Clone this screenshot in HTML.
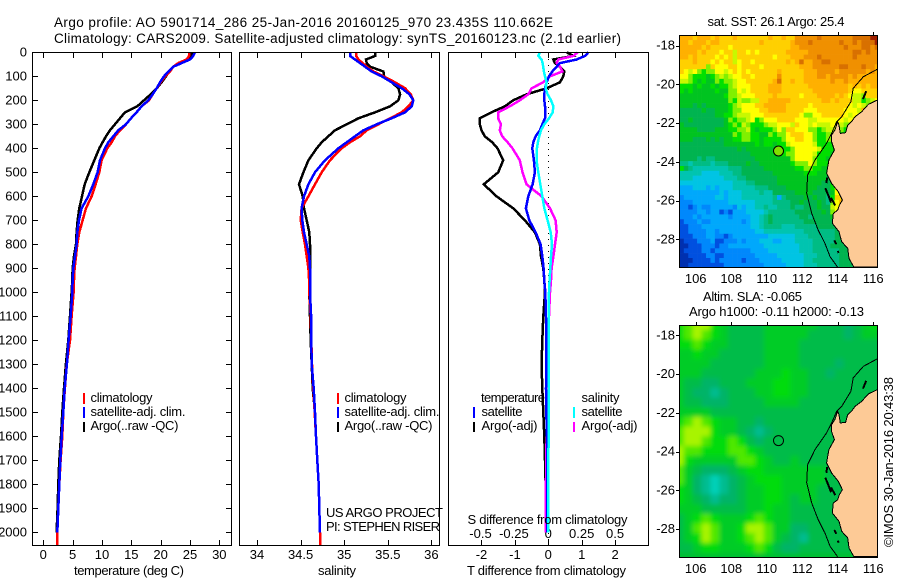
<!DOCTYPE html>
<html>
<head>
<meta charset="utf-8">
<title>Argo profile</title>
<style>
html,body{margin:0;padding:0;background:#fff;}
svg{display:block;font-family:"Liberation Sans",sans-serif;font-size:13px;fill:#000;}
.frame{fill:none;stroke:#000;stroke-width:1;shape-rendering:crispEdges;}
.head{font-size:13.5px;}
</style>
</head>
<body>
<svg id="chart" xmlns="http://www.w3.org/2000/svg" width="900" height="580" viewBox="0 0 900 580">
  <defs>
    <clipPath id="clipA"><rect x="679.5" y="35.5" width="198" height="232"/></clipPath>
    <clipPath id="clipB"><rect x="679.5" y="325.5" width="198" height="232"/></clipPath>
    <filter id="soft" x="-5%" y="-5%" width="110%" height="110%"><feGaussianBlur stdDeviation="2.5"/></filter>
  </defs>
  <rect x="0" y="0" width="900" height="580" fill="#fff"/>

  <text class="head" x="54" y="27" textLength="499">Argo profile: AO 5901714_286 25-Jan-2016 20160125_970 23.435S 110.662E</text>
  <text class="head" x="54" y="43" textLength="567">Climatology: CARS2009. Satellite-adjusted climatology: synTS_20160123.nc (2.1d earlier)</text>

  <g id="marks"></g>

  <rect class="frame" x="32.5" y="52.5" width="199" height="493"/>
  <rect class="frame" x="239.5" y="52.5" width="200" height="493"/>
  <rect class="frame" x="448.5" y="52.5" width="200" height="493"/>

  <text x="74" y="575" textLength="110">temperature (deg C)</text>
  <text x="318" y="575" textLength="38">salinity</text>
  <text x="467" y="575" textLength="159">T difference from climatology</text>
  <text x="467.5" y="524" textLength="160">S difference from climatology</text>

  <g>
    <rect x="83" y="393" width="2" height="11" fill="#f00"/>
    <text x="90.5" y="402" textLength="62">climatology</text>
    <rect x="83" y="407" width="2" height="11" fill="#00f"/>
    <text x="90.5" y="416" textLength="95">satellite-adj. clim.</text>
    <rect x="83" y="422" width="2" height="10" fill="#000"/>
    <text x="90.5" y="430" textLength="88">Argo(..raw -QC)</text>
  </g>
  <g>
    <rect x="337" y="393" width="2" height="11" fill="#f00"/>
    <text x="344.5" y="402" textLength="62">climatology</text>
    <rect x="337" y="407" width="2" height="11" fill="#00f"/>
    <text x="344.5" y="416" textLength="95">satellite-adj. clim.</text>
    <rect x="337" y="422" width="2" height="10" fill="#000"/>
    <text x="344.5" y="430" textLength="88">Argo(..raw -QC)</text>
  </g>
  <text x="326" y="517" textLength="117">US ARGO PROJECT</text>
  <text x="326" y="531" textLength="114">PI: STEPHEN RISER</text>

  <g>
    <text x="481" y="402" textLength="64">temperature</text>
    <rect x="473" y="407" width="2" height="11" fill="#00f"/>
    <text x="481.5" y="416" textLength="41">satellite</text>
    <rect x="473" y="422" width="2" height="10" fill="#000"/>
    <text x="481.5" y="430" textLength="56">Argo(-adj)</text>
    <text x="581.5" y="402" textLength="38">salinity</text>
    <rect x="573" y="407" width="2" height="11" fill="#0ff"/>
    <text x="581.5" y="416" textLength="41">satellite</text>
    <rect x="573" y="422" width="2" height="10" fill="#f0f"/>
    <text x="581.5" y="430" textLength="56">Argo(-adj)</text>
  </g>

  <rect class="frame" x="679.5" y="35.5" width="198" height="232"/>
  <rect class="frame" x="679.5" y="325.5" width="198" height="232"/>
  <text x="707.5" y="26" textLength="137">sat. SST: 26.1  Argo: 25.4</text>
  <text x="703" y="301" textLength="99">Altim. SLA: -0.065</text>
  <text x="689" y="316" textLength="175">Argo h1000: -0.11  h2000: -0.13</text>
  <text transform="translate(893,547) rotate(-90)" textLength="170">©IMOS 30-Jan-2016 20:43:38</text>
</svg>

<script>
// ---------- profile data ----------
const depths = [0,15,30,45,60,80,100,125,150,175,200,225,250,275,300,325,350,375,400,450,500,550,600,650,700,750,800,850,900,950,1000,1100,1200,1300,1400,1500,1600,1700,1800,1900,2000,2054];
const tempClim = [24.83,24.83,24.43,23.01,22.16,21.59,20.74,20.0,19.32,18.64,18.01,16.76,15.91,14.94,14.09,13.07,12.22,11.65,10.91,9.94,9.55,8.92,8.24,7.27,6.7,6.14,5.8,5.57,5.34,5.23,5.17,4.83,4.55,3.98,3.69,3.41,3.24,2.95,2.73,2.56,2.39,2.39];
const tempSat = [25.85,25.57,25.0,23.58,22.16,21.31,20.57,19.89,19.32,18.64,17.9,16.76,15.91,14.94,14.09,12.78,11.93,11.08,10.51,9.66,9.26,8.52,7.67,6.53,6.08,5.8,5.68,5.4,5.11,5.0,4.94,4.66,4.32,4.03,3.64,3.41,3.13,2.9,2.73,2.56,2.39];
const tempArgo = [25.28,25.28,25.0,23.01,22.16,21.48,20.91,20.17,19.32,18.3,17.16,16.02,13.92,13.07,12.22,11.36,10.68,10.11,9.55,8.69,7.84,7.05,6.59,6.14,5.85,5.68,5.57,5.23,5.0,4.94,4.83,4.55,4.26,3.86,3.52,3.24,3.01,2.73,2.56,2.44,2.27];
const salClim = [35.136,35.136,35.163,35.212,35.258,35.335,35.449,35.583,35.698,35.763,35.793,35.736,35.66,35.526,35.392,35.258,35.182,35.067,34.971,34.837,34.742,34.665,34.589,34.512,34.501,34.524,34.551,34.57,34.589,34.597,34.6,34.616,34.623,34.631,34.646,34.662,34.677,34.692,34.707,34.715,34.723,34.723];
const salSat = [35.067,35.067,35.124,35.182,35.239,35.315,35.43,35.545,35.66,35.748,35.793,35.774,35.698,35.545,35.373,35.22,35.124,35.029,34.933,34.78,34.665,34.589,34.539,34.512,34.52,34.539,34.57,34.6,34.608,34.608,34.608,34.62,34.623,34.627,34.65,34.665,34.677,34.692,34.707,34.715,34.723];
const salArgo = [35.354,35.354,35.25,35.258,35.296,35.449,35.457,35.545,35.621,35.641,35.621,35.526,35.354,35.163,35.029,34.895,34.818,34.742,34.685,34.589,34.532,34.482,34.524,34.539,34.57,34.6,34.608,34.608,34.608,34.608,34.6,34.608,34.616,34.627,34.639,34.665,34.677,34.692,34.707,34.715,34.723];
const tDiffArgo = [0.55,0.75,0.15,0.2,0.35,0.48,0.45,0.35,-0.05,-0.65,-1.05,-1.3,-1.7,-2.05,-2.05,-2,-1.9,-1.68,-1.52,-1.35,-1.5,-1.93,-1.55,-1.05,-0.7,-0.4,-0.25,-0.22,-0.15,-0.12,-0.1,-0.15,-0.18,-0.2,-0.18,-0.15,-0.12,-0.1,-0.08,-0.07,-0.07];
const tDiffSat = [1.2,1.1,0.85,0.35,0.25,0.12,0.02,-0.05,-0.1,-0.12,-0.12,-0.1,-0.1,-0.1,-0.18,-0.25,-0.38,-0.45,-0.48,-0.43,-0.4,-0.47,-0.6,-0.67,-0.57,-0.38,-0.23,-0.18,-0.14,-0.12,-0.09,-0.07,-0.06,-0.06,-0.07,-0.06,-0.04,-0.04,-0.03,-0.03,-0.03];
const sDiffArgo = [0.22,0.188,0.075,0.063,0.088,0.105,0.013,-0.038,-0.125,-0.15,-0.213,-0.288,-0.375,-0.375,-0.355,-0.363,-0.345,-0.305,-0.268,-0.213,-0.193,-0.163,-0.05,0.013,0.055,0.063,0.05,0.038,0.025,0.02,0.013,0.005,0,-0.005,-0.008,-0.01,-0.013,-0.015,-0.018,-0.02,-0.02];
const sDiffSat = [-0.063,-0.075,-0.05,-0.043,-0.038,-0.033,-0.025,-0.013,-0.02,-0.005,0.02,0.038,0.033,0.005,-0.03,-0.055,-0.068,-0.078,-0.085,-0.088,-0.075,-0.06,-0.045,-0.03,-0.005,0.018,0.028,0.02,0.015,0.01,0.005,0.003,0.003,0.003,0.003,0.003,0.003,0,0,0,0];

// ---------- tick labels ----------
const depthTicks = [0,100,200,300,400,500,600,700,800,900,1000,1100,1200,1300,1400,1500,1600,1700,1800,1900,2000];
const tempTicks = [0,5,10,15,20,25,30];
const salTicks = [34,34.5,35,35.5,36];
const tDiffTicks = [-2,-1,0,1,2];
const sDiffTicks = [-0.5,-0.25,0,0.25,0.5];
const lonTicks = [106,108,110,112,114,116];
const latTicks = [-18,-20,-22,-24,-26,-28];

// ---------- map geography (lon, lat) ----------
const argoLon = 110.662;
const argoLat = -23.435;
const landLon = [116.22,115.72,115.34,114.97,114.78,114.56,114.44,114.14,114.07,113.99,113.84,113.65,113.65,113.81,113.5,113.37,113.65,114.03,114.26,114.09,113.99,113.75,113.69,114.07,114.22,114.56,114.63,114.91,116.3,116.3];
const landLat = [-20.81,-21.03,-21.41,-21.67,-21.92,-22.1,-22.49,-22.53,-22.1,-21.92,-22.35,-22.61,-22.96,-23.39,-23.9,-24.59,-25.11,-25.54,-25.97,-26.23,-26.49,-26.66,-27.17,-27.6,-28.12,-28.46,-28.98,-29.43,-29.43,-20.81];
const contourLon = [116.22,115.44,114.87,114.74,114.22,113.94,113.65,113.37,112.72,112.3,112.25,112.53,112.9,113.28,113.56,113.99];
const contourLat = [-19.22,-19.6,-20.2,-20.89,-21.67,-21.92,-22.53,-23.04,-23.9,-24.68,-25.62,-26.66,-27.52,-28.21,-28.89,-29.43];
const islandLon = [[115.6,115.42],[113.4,113.36],[113.3,113.5,113.62],[113.62,113.86],[113.8,113.92],[114.0,114.05]];
const islandLat = [[-20.35,-20.75],[-24.8,-25.1],[-25.35,-25.8,-26.1],[-25.85,-26.25],[-28.05,-28.25],[-28.6,-28.7]];

// ---------- SST colour levels ----------
const sstColors = ['#0030b0','#0050e0','#0088fc','#00a8fc','#00c4e4','#00c4b0','#00bc84','#00b450','#00c420','#00e000','#80f000','#c8f800','#ffff00','#ffd000','#ffb000','#f09000','#d87000','#a02000'];
const sstLevels = [
[14,14,14,13,14,14,14,13,14,13,13,13,14,13,13,13,13,13,13,13,14,13,13,14,13,13,15,15,15,15,15,16,15,15,15,15,15,15,15,16,16,16,16,17,17],
[14,14,13,14,14,14,13,14,14,13,13,13,13,13,13,13,13,13,14,13,13,13,13,13,13,14,15,15,15,16,15,15,15,15,15,15,16,15,15,16,15,16,16,16,17],
[14,14,14,14,14,13,14,13,13,13,13,12,13,13,13,13,13,13,13,13,13,13,13,13,13,14,14,15,15,15,15,15,15,15,15,15,15,16,15,15,15,16,16,15,16],
[14,14,14,14,13,14,13,13,13,12,13,13,11,13,13,12,13,12,13,13,13,13,13,13,14,14,14,14,14,15,15,15,15,15,15,15,15,15,15,16,16,15,16,15,15],
[14,14,13,14,13,13,13,13,12,13,12,13,11,13,13,13,13,13,13,13,13,12,13,13,13,14,14,14,15,15,15,16,15,15,15,15,15,15,15,16,15,15,15,15,15],
[13,13,13,14,13,13,13,12,13,12,13,13,11,12,13,13,12,13,13,13,13,13,13,13,14,13,14,16,14,14,15,15,16,16,15,15,15,15,15,15,15,15,15,15,15],
[13,13,13,13,13,13,10,13,12,12,12,13,13,12,13,13,13,13,12,13,13,13,13,13,13,13,13,14,14,14,15,15,15,15,15,15,16,16,15,15,15,16,15,15,14],
[13,12,11,12,10,9,10,10,12,12,11,12,13,12,13,12,13,13,13,13,13,13,14,13,13,13,13,13,14,14,14,15,15,15,15,14,15,15,15,15,15,15,14,15,14],
[12,12,10,9,9,9,8,9,10,11,10,11,12,12,13,13,12,13,13,13,13,13,15,13,13,13,13,13,14,14,14,15,15,14,15,15,15,15,14,15,14,14,14,14,14],
[11,11,10,9,8,9,8,8,10,9,10,10,11,12,12,13,13,13,13,13,13,14,16,13,13,14,13,13,14,14,14,14,14,14,15,14,14,15,14,14,14,14,14,14,14],
[9,9,9,8,9,8,8,9,8,9,9,10,11,12,12,12,13,13,13,13,14,14,14,13,13,13,13,13,13,14,14,14,14,14,14,14,14,14,13,14,13,14,13,14,14],
[9,8,9,8,8,8,8,8,9,8,8,10,10,12,11,12,13,13,13,13,14,14,14,13,13,13,13,13,13,13,14,14,14,14,14,14,14,14,13,12,12,13,13,13,13],
[8,8,8,8,8,8,8,8,8,8,9,10,10,11,12,12,12,13,13,13,13,14,13,13,13,13,13,12,13,13,13,14,14,14,14,13,14,13,12,11,11,10,13,13,13],
[8,8,8,8,8,8,8,8,8,8,8,10,9,11,10,10,11,11,13,13,14,14,14,14,14,13,13,13,13,13,13,13,14,14,13,14,13,13,13,11,11,9,10,11,12],
[8,8,8,7,8,7,8,8,8,8,8,9,10,11,12,12,12,13,13,14,14,14,14,14,13,13,13,13,13,12,13,13,13,13,13,13,13,13,12,11,12,11,10,14,15],
[7,7,7,7,7,8,7,7,8,8,8,9,10,10,12,12,12,12,13,13,14,14,14,14,13,13,13,13,12,12,12,13,13,13,13,13,13,12,12,12,11,14,15,15,15],
[7,7,7,7,7,7,7,7,8,8,9,9,10,11,11,11,12,12,12,13,13,13,13,13,13,13,13,12,10,10,12,12,13,13,13,13,13,12,11,12,12,14,15,15,15],
[7,7,8,7,7,7,7,7,7,7,8,10,9,10,10,11,12,9,10,12,12,12,13,13,13,13,12,12,12,11,11,12,12,12,12,12,12,11,12,11,12,14,14],
[8,7,7,7,7,7,7,7,7,7,8,9,10,9,11,10,9,9,9,10,11,11,12,12,12,11,13,12,12,11,12,11,11,11,12,12,11,10,10,8,10,9,10],
[8,8,8,8,7,7,7,7,8,8,8,9,9,10,10,11,9,8,9,9,9,10,12,10,13,13,12,12,12,10,10,9,10,11,11,11,10,9,9,9,10,9],
[8,8,8,8,8,8,8,8,8,8,8,8,10,9,10,10,9,9,8,8,10,9,10,10,12,13,13,13,12,12,10,9,9,10,10,10,9,9,8,8,13,13],
[8,8,8,7,7,7,8,7,8,7,8,8,9,9,10,10,9,9,8,9,9,9,9,10,12,12,13,13,12,12,10,9,9,10,10,9,9,8,8,8],
[7,7,7,7,7,7,7,7,7,7,8,8,8,8,8,8,8,9,8,9,9,8,9,9,11,12,12,12,12,12,11,9,9,9,9,9,8,8],
[7,7,7,7,7,7,7,7,7,7,7,7,7,8,7,8,8,8,8,8,8,8,8,9,9,10,12,12,12,12,12,11,9,9,9,8,8,8],
[7,7,7,7,7,7,7,7,7,7,7,7,7,7,7,7,8,8,8,8,8,8,8,9,10,10,12,12,12,12,11,9,9,9,8,8,7,7],
[7,7,7,7,6,7,6,6,7,7,7,7,7,7,7,7,7,8,8,8,8,8,8,8,8,10,12,12,12,12,10,9,9,8,8,8,7,7],
[6,6,5,6,6,6,6,5,6,6,6,7,7,7,7,8,7,7,8,8,8,8,8,8,8,9,10,10,10,12,10,9,9,9,8,8,7,7],
[9,7,6,5,5,5,5,5,5,5,5,6,6,6,7,7,7,7,7,8,8,8,8,8,8,8,9,9,10,10,9,9,8,8,8,7,7,7],
[5,5,5,5,5,4,4,4,4,5,5,5,6,6,7,7,7,7,7,7,7,8,8,8,8,8,8,8,9,9,9,8,8,8,12,12,7],
[5,5,5,4,4,4,4,4,4,4,5,5,5,6,6,7,7,7,7,7,7,7,8,8,8,8,8,8,8,8,8,8,8,7,11,12,13],
[4,4,4,4,4,4,4,4,4,4,4,4,5,5,5,6,6,7,7,7,7,7,8,8,8,8,8,8,8,8,8,8,7,7,9,12,13,14],
[3,3,3,4,4,4,3,4,3,4,4,4,5,5,5,5,5,6,6,6,7,7,7,7,8,8,8,8,8,8,8,7,7,7,9,12,13,14],
[3,3,3,3,3,3,3,3,3,4,3,4,4,4,5,5,5,5,6,5,5,7,7,7,7,7,8,8,8,8,7,7,7,7,8,12,12,13,14],
[2,3,3,3,3,3,3,3,4,4,3,4,4,4,5,5,5,5,5,5,5,6,3,6,7,7,7,7,8,7,8,7,7,6,9,13,13,15,15],
[2,2,2,3,3,3,3,3,3,3,3,4,4,4,4,4,4,5,5,5,5,6,6,6,6,7,7,8,7,7,7,8,7,6,10,12,14,15,15],
[2,2,1,2,3,2,2,3,3,3,3,3,2,4,3,4,4,5,5,6,5,5,6,6,6,7,6,6,7,7,7,8,7,7,11,12,13,14,14],
[2,2,2,2,3,3,2,3,3,1,2,1,3,3,3,4,4,4,4,5,6,6,6,6,6,6,7,7,7,7,7,7,8,7,10,12,13,13],
[2,2,2,3,2,3,3,3,3,3,3,2,3,3,3,3,4,4,5,6,7,6,6,6,6,6,6,7,7,6,7,7,7,7,8,11,11,8],
[1,2,2,2,3,2,2,3,3,3,3,3,3,3,2,3,4,4,5,6,7,6,6,6,6,6,6,6,7,7,7,7,7,7,7,8,10,7],
[1,1,2,2,2,3,3,3,3,3,3,3,3,3,3,3,4,4,5,6,6,6,6,5,5,5,6,6,6,6,6,7,7,7,7,7,7,7],
[1,1,2,2,2,2,3,3,2,3,3,3,3,3,3,3,3,4,4,5,5,5,5,5,5,5,5,5,6,6,6,6,6,6,6,7,7,7,7],
[1,1,1,2,2,2,3,3,2,2,1,2,3,3,3,3,3,3,3,3,4,4,4,4,4,4,5,5,5,6,6,6,6,6,6,7,7,7,7],
[0,1,1,1,2,2,2,3,1,1,2,2,2,3,2,3,3,3,4,4,4,3,3,4,4,4,5,5,5,5,6,6,6,6,6,7,7,7,7,7],
[0,0,1,1,1,2,2,2,1,2,2,3,3,3,3,3,3,3,3,4,4,4,4,4,4,4,4,5,5,5,6,6,6,6,7,7,7,7,7,7],
[0,1,1,1,1,2,2,1,2,2,2,2,2,2,2,2,3,3,3,3,4,4,4,4,4,4,4,5,5,5,6,6,6,6,6,6,7,7,7,7],
[0,0,1,1,1,1,2,2,1,1,2,2,2,2,2,2,2,3,3,3,3,3,4,4,4,4,4,4,5,5,5,6,6,6,6,6,7,7,7,7],
[0,0,0,1,1,1,1,2,1,2,2,2,2,2,1,2,2,2,3,3,3,3,3,4,4,4,4,4,5,5,6,6,6,6,6,6,7,7,7,7],
[0,0,1,1,1,1,1,1,1,1,2,2,2,2,2,2,2,2,2,3,3,3,3,3,4,4,4,4,5,5,5,6,6,6,6,6,7,7,7,7]
];

// ---------- SLA colour levels ----------
const slaColors = ['#00d0b8','#00bc90','#00b468','#00bc48','#00cc28','#00dc10','#50e800','#a8f400'];
const slaLevels = [
[5,6,7,7,5,4,3,3,3,3,4,4,4,4,4,4,3,3,3,2,3,4,5],
[5,6,7,6,5,4,3,3,3,3,4,4,4,4,4,3,3,3,3,2,3,4,4],
[5,5,6,5,4,4,3,3,3,3,4,4,4,4,3,3,3,3,3,3,3,3,3],
[4,4,5,4,4,3,3,3,3,3,4,4,4,4,3,3,3,3,3,3,3,3,3],
[4,4,4,4,3,3,3,3,3,3,4,4,4,4,3,3,3,3,2,3,3,3,3],
[4,4,4,3,3,3,3,3,3,4,4,4,5,4,4,3,3,2,3,3,3,3,3],
[4,3,3,2,2,3,3,3,4,4,4,5,5,4,4,3,3,3,3,3,3,3,3],
[4,3,2,2,1,2,3,3,3,4,4,5,5,4,4,3,3,3,3,3,3,3,3],
[4,3,3,2,2,2,3,3,3,3,4,4,4,4,3,3,3,3,3,3,3,3,3],
[4,4,4,4,3,3,3,3,3,3,3,3,3,3,3,3,3,3,3,3,3,3,3],
[5,6,7,6,5,4,4,3,3,2,3,3,3,3,3,3,3,3,3,3,3,3,3],
[6,7,7,7,5,4,4,3,2,1,2,3,3,3,3,3,3,3,3,3,3,3,3],
[6,7,7,6,5,5,6,5,3,2,3,3,3,3,3,3,3,3,3,3,3,3,3],
[7,6,6,5,5,5,6,6,5,4,3,3,3,3,3,3,3,3,3,3,3,3,3],
[7,5,4,4,4,4,4,6,6,5,4,3,3,4,3,3,3,3,3,3,3,3,3],
[6,4,3,2,2,2,3,4,5,5,4,4,4,4,4,4,4,3,3,3,3,3,3],
[6,4,2,1,0,1,2,3,4,5,5,5,4,4,4,4,4,3,3,3,3,3,3],
[5,4,2,1,0,1,2,3,4,4,5,5,4,4,4,4,3,3,3,3,3,3,3],
[5,4,3,2,1,2,2,3,4,4,5,5,4,3,4,4,3,3,3,3,3,3,3],
[4,4,4,3,3,3,3,3,4,4,5,4,4,3,3,3,3,3,3,3,3,3,3],
[3,4,5,6,5,4,4,4,5,6,5,4,4,3,3,3,3,3,3,3,3,3,3],
[3,4,6,7,6,4,4,5,7,7,6,4,4,2,2,3,3,3,3,3,3,3,3],
[3,4,5,7,6,4,4,5,6,7,6,4,3,2,1,3,3,3,3,3,3,3,3],
[3,3,4,5,5,4,4,4,5,6,5,3,2,2,3,3,3,3,3,3,3,3,3]
];

// ---------- axis functions ----------
const NS = 'http://www.w3.org/2000/svg';
const yDepth = d => 52.3 + 0.24 * d;
const xTemp = t => 43.3 + 5.867 * t;
const xSal = s => 257 + 87.2 * (s - 34);
const xTDiff = t => 548.3 + 33.4 * t;
const xSDiff = s => 548.3 + 133.6 * s;
const mapLonX = lon => 695.7 + 17.76 * (lon - 106);
const mapALatY = lat => 45.7 + 19.37 * (-18 - lat);
const mapBLatY = lat => 335.3 + 19.37 * (-18 - lat);
const lonWest = 105.08;
const latNorth = -17.46;

const marks = document.getElementById('marks');

function svgEl(tag, parent) {
  const el = document.createElementNS(NS, tag);
  (parent || marks).appendChild(el);
  return el;
}

function drawProfile(name, values, xFn, color, width) {
  const el = svgEl('polyline');
  
  
  const pts = values.map((v, i) => xFn(v).toFixed(1) + ',' + yDepth(depths[i]).toFixed(1));
  el.setAttribute('points', pts.join(' '));
  el.setAttribute('fill', 'none');
  el.setAttribute('stroke', color);
  el.setAttribute('stroke-width', width);
  el.setAttribute('shape-rendering', 'crispEdges');
}

function tickLine(x1, y1, x2, y2) {
  const el = svgEl('line');
  
  
  el.setAttribute('x1', x1);
  el.setAttribute('y1', y1);
  el.setAttribute('x2', x2);
  el.setAttribute('y2', y2);
  el.setAttribute('stroke', '#000');
  el.setAttribute('stroke-width', 1);
  el.setAttribute('shape-rendering', 'crispEdges');
}

function tickText(x, y, str, anchor) {
  const el = svgEl('text');
  
  
  el.setAttribute('x', x);
  el.setAttribute('y', y);
  el.setAttribute('text-anchor', anchor);
  el.textContent = str;
}

function bottomAxis(ticks, xFn, labelY) {
  ticks.forEach(t => {
    const x = Math.round(xFn(t)) + 0.5;
    tickLine(x, 52, x, 58);
    tickLine(x, 540, x, 546);
    tickText(xFn(t), labelY, String(t), 'middle');
  });
}

// ---------- map heat cells ----------
function drawHeat(name, parent, levels, colors, cellDeg, latFn, cellShift) {
  levels.forEach((row, r) => {
    row.forEach((lv, c) => {
      const el = svgEl('rect', parent);
      
      
      const x0 = mapLonX(lonWest + (c - cellShift) * cellDeg);
      const x1 = mapLonX(lonWest + (c + 1 - cellShift) * cellDeg);
      const y0 = latFn(latNorth - (r - cellShift) * cellDeg);
      const y1 = latFn(latNorth - (r + 1 - cellShift) * cellDeg);
      el.setAttribute('x', x0.toFixed(2));
      el.setAttribute('y', y0.toFixed(2));
      el.setAttribute('width', (x1 - x0 + 0.3).toFixed(2));
      el.setAttribute('height', (y1 - y0 + 0.3).toFixed(2));
      el.setAttribute('fill', colors[lv]);
    });
  });
}

function toPoints(lons, lats, latFn) {
  return lons.map((lon, i) => mapLonX(lon).toFixed(1) + ',' + latFn(lats[i]).toFixed(1)).join(' ');
}

function drawGeography(parent, latFn) {
  const land = svgEl('polygon', parent);
  
  
  land.setAttribute('points', toPoints(landLon, landLat, latFn));
  land.setAttribute('fill', '#fdca96');
  land.setAttribute('stroke', '#000');
  land.setAttribute('stroke-width', 1);
  land.setAttribute('shape-rendering', 'crispEdges');

  const contour = svgEl('polyline', parent);
  
  
  contour.setAttribute('points', toPoints(contourLon, contourLat, latFn));
  contour.setAttribute('fill', 'none');
  contour.setAttribute('stroke', '#000');
  contour.setAttribute('stroke-width', 1);
  contour.setAttribute('shape-rendering', 'crispEdges');

  islandLon.forEach((lons, i) => {
    const isl = svgEl('polyline', parent);
    
    
    isl.setAttribute('points', toPoints(lons, islandLat[i], latFn));
    isl.setAttribute('fill', 'none');
    isl.setAttribute('stroke', '#000');
    isl.setAttribute('stroke-width', 2);
    isl.setAttribute('shape-rendering', 'crispEdges');
  });
}

function drawArgoMarker(parent, latFn, fill) {
  const el = svgEl('circle', parent);
  
  
  el.setAttribute('cx', mapLonX(argoLon).toFixed(1));
  el.setAttribute('cy', latFn(argoLat).toFixed(1));
  el.setAttribute('r', 5);
  el.setAttribute('fill', fill);
  el.setAttribute('stroke', '#000');
  el.setAttribute('stroke-width', 1);
}

function mapAxes(latFn, top, bottomLabelY) {
  lonTicks.forEach(lon => {
    const x = Math.round(mapLonX(lon)) + 0.5;
    tickLine(x, top - 3, x, top);
    tickText(mapLonX(lon), bottomLabelY, String(lon), 'middle');
  });
  latTicks.forEach(lat => {
    const y = Math.round(latFn(lat)) + 0.5;
    tickLine(676, y, 679, y);
    tickText(675, latFn(lat) + 4, String(lat), 'end');
  });
}

// ---------- SST map ----------
const gA = svgEl('g');


gA.setAttribute('clip-path', 'url(#clipA)');
const bgA = svgEl('rect', gA);


bgA.setAttribute('x', 679);
bgA.setAttribute('y', 35);
bgA.setAttribute('width', 199);
bgA.setAttribute('height', 233);
bgA.setAttribute('fill', '#fdca96');
drawHeat('sst-cell', gA, sstLevels, sstColors, 0.25, mapALatY, 0);
drawGeography(gA, mapALatY);
drawArgoMarker(gA, mapALatY, '#80e000');
mapAxes(mapALatY, 35, 283);

// ---------- SLA map ----------
const gB = svgEl('g');


gB.setAttribute('clip-path', 'url(#clipB)');
const gBSoft = svgEl('g', gB);


gBSoft.setAttribute('filter', 'url(#soft)');
const bgB = svgEl('rect', gBSoft);


bgB.setAttribute('x', 660);
bgB.setAttribute('y', 305);
bgB.setAttribute('width', 240);
bgB.setAttribute('height', 275);
bgB.setAttribute('fill', '#00c030');
drawHeat('sla-cell', gBSoft, slaLevels, slaColors, 0.5, mapBLatY, 0.5);
drawGeography(gB, mapBLatY);
drawArgoMarker(gB, mapBLatY, 'none');
mapAxes(mapBLatY, 325, 573);

// ---------- depth axis ----------
depthTicks.forEach(d => {
  const y = Math.round(yDepth(d)) + 0.5;
  tickLine(32, y, 38, y);
  tickLine(226, y, 232, y);
  tickText(27, yDepth(d) + 4, String(d), 'end');
});
bottomAxis(tempTicks, xTemp, 559);
bottomAxis(salTicks, xSal, 559);
bottomAxis(tDiffTicks, xTDiff, 559);
sDiffTicks.forEach(s => tickText(xSDiff(s) - (s < 0 ? 1 : 0), 538, String(s), 'middle'));

// ---------- zero reference ----------
const zero = svgEl('line');


zero.setAttribute('x1', xTDiff(0));
zero.setAttribute('x2', xTDiff(0));
zero.setAttribute('y1', 53);
zero.setAttribute('y2', 545);
zero.setAttribute('stroke', '#000');
zero.setAttribute('stroke-width', 1);
zero.setAttribute('stroke-dasharray', '1 5');
zero.setAttribute('shape-rendering', 'crispEdges');

// ---------- profiles ----------
drawProfile('temperature-argo-line', tempArgo, xTemp, '#000', 2.5);
drawProfile('temperature-climatology-line', tempClim, xTemp, '#f00', 2.5);
drawProfile('temperature-satellite-line', tempSat, xTemp, '#00f', 2.5);
drawProfile('salinity-argo-line', salArgo, xSal, '#000', 2.5);
drawProfile('salinity-climatology-line', salClim, xSal, '#f00', 2.5);
drawProfile('salinity-satellite-line', salSat, xSal, '#00f', 2.5);
drawProfile('t-difference-argo-line', tDiffArgo, xTDiff, '#000', 2.5);
drawProfile('s-difference-argo-line', sDiffArgo, xSDiff, '#f0f', 2.5);
drawProfile('t-difference-satellite-line', tDiffSat, xTDiff, '#00f', 2.5);
drawProfile('s-difference-satellite-line', sDiffSat, xSDiff, '#0ff', 2.5);
</script>
</body>
</html>
